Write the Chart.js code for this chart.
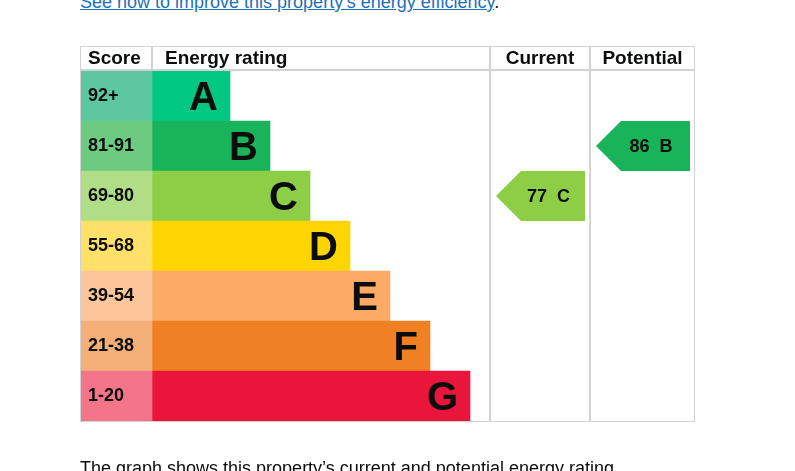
<!DOCTYPE html>
<html>
<head>
<meta charset="utf-8">
<script src="https://cdn.jsdelivr.net/npm/chart.js@4"></script>
<style>
  body { margin: 0; background: #fff; font-family: "Liberation Sans", Arial, sans-serif; }
  #wrap { position: relative; width: 795px; height: 471px; overflow: hidden; }
  canvas { position: absolute; left: 0; top: 0; }
  .txt { position: absolute; left: 80px; font-size: 18px; color: #0b0c0c; white-space: nowrap; }
  .txt a { color: #1d70b8; text-decoration: underline; }
</style>
</head>
<body>
<div id="wrap">
  <div class="txt" style="top:-8px"><a>See how to improve this property’s energy efficiency</a>.</div>
  <canvas id="epc" width="795" height="471"></canvas>
  <div class="txt" style="top:458px">The graph shows this property’s current and potential energy rating.</div>
</div>
<script>
// bands, top to bottom
var bands = ['A', 'B', 'C', 'D', 'E', 'F', 'G'];
var scoreRanges = ['92+', '81-91', '69-80', '55-68', '39-54', '21-38', '1-20'];
var barLengths = [78, 118, 158, 198, 238, 278, 318];
var bandColours = ['#00c781', '#19b459', '#8dce46', '#ffd500', '#fcaa65', '#ef8023', '#e9153b'];
var scoreColours = ['#5dc8a0', '#6ccb80', '#b0dd86', '#ffe16a', '#fdc69a', '#f4af79', '#f47589'];
var currentScore = 77, currentBand = 'C';
var potentialScore = 86, potentialBand = 'B';

var scoreWidth = 72;     // score column width, table units
var tableWidth = 615;
var currentCol = [410, 510];
var potentialCol = [510, 615];

var ctx = document.getElementById('epc').getContext('2d');
var grid = '#d2d2d2';

var tablePlugin = {
    id: 'epcTable',
    afterDatasetsDraw: function (chart) {
        var c = chart.ctx, a = chart.chartArea;
        var x = chart.scales.x, y = chart.scales.y;
        var top = 46;
        c.save();
        c.strokeStyle = grid;
        c.lineWidth = 1;
        c.strokeRect(a.left + 0.5, top + 0.5, a.right - a.left - 1, a.bottom - top);
        c.lineWidth = 2;
        c.beginPath(); c.moveTo(a.left, a.top - 1); c.lineTo(a.right, a.top - 1); c.stroke();
        c.lineWidth = 2;
        [currentCol[0], potentialCol[0]].forEach(function (v) {
            var px = Math.round(x.getPixelForValue(v));
            c.beginPath(); c.moveTo(px, top); c.lineTo(px, a.bottom); c.stroke();
        });
        var sx = Math.round(x.getPixelForValue(scoreWidth));
        c.beginPath(); c.moveTo(sx, top); c.lineTo(sx, a.top); c.stroke();

        // headers
        c.fillStyle = '#0b0c0c';
        c.font = 'bold 19px "Liberation Sans", Arial';
        c.textBaseline = 'middle';
        c.textAlign = 'left';
        c.fillText('Score', a.left + 8, 59);
        c.fillText('Energy rating', sx + 13, 59);
        c.textAlign = 'center';
        c.fillText('Current', (x.getPixelForValue(currentCol[0]) + x.getPixelForValue(currentCol[1])) / 2, 59);
        c.fillText('Potential', (x.getPixelForValue(potentialCol[0]) + x.getPixelForValue(potentialCol[1])) / 2, 59);

        // row labels
        bands.forEach(function (b, i) {
            var py = y.getPixelForValue(i);
            c.textAlign = 'left';
            c.font = 'bold 18px "Liberation Sans", Arial';
            c.fillText(scoreRanges[i], a.left + 8, py);
            c.textAlign = 'right';
            c.font = 'bold 40px "Liberation Sans", Arial';
            c.fillText(b, x.getPixelForValue(scoreWidth + barLengths[i]) - 12, py + 3);
        });

        // arrows
        function arrow(col, band, score) {
            var i = bands.indexOf(band);
            var py = y.getPixelForValue(i);
            var x0 = x.getPixelForValue(col[0]) + 6, x1 = x.getPixelForValue(col[1]) - 5;
            c.fillStyle = bandColours[i];
            c.beginPath();
            c.moveTo(x0, py);
            c.lineTo(x0 + 25, py - 25);
            c.lineTo(x1, py - 25);
            c.lineTo(x1, py + 25);
            c.lineTo(x0 + 25, py + 25);
            c.closePath();
            c.fill();
            c.fillStyle = '#0b0c0c';
            c.textAlign = 'center';
            c.font = 'bold 18px "Liberation Sans", Arial';
            c.fillText(score + '  ' + band, (x0 + x1) / 2 + 8, py + 1);
        }
        arrow(currentCol, currentBand, currentScore);
        arrow(potentialCol, potentialBand, potentialScore);
        c.restore();
    }
};

new Chart(ctx, {
    type: 'bar',
    data: {
        labels: bands,
        datasets: [{
            label: 'Score',
            data: bands.map(function () { return [0, scoreWidth]; }),
            backgroundColor: scoreColours,
            grouped: false
        }, {
            label: 'Energy rating',
            data: barLengths.map(function (l) { return [scoreWidth, scoreWidth + l]; }),
            backgroundColor: bandColours,
            grouped: false
        }]
    },
    options: {
        indexAxis: 'y',
        responsive: false,
        animation: false,
        layout: { padding: { left: 80, right: 100, top: 71, bottom: 50 } },
        categoryPercentage: 1,
        barPercentage: 1,
        scales: {
            x: { display: false, min: 0, max: tableWidth },
            y: { display: false }
        },
        plugins: { legend: { display: false }, tooltip: { enabled: false } }
    },
    plugins: [tablePlugin]
});
</script>
</body>
</html>
